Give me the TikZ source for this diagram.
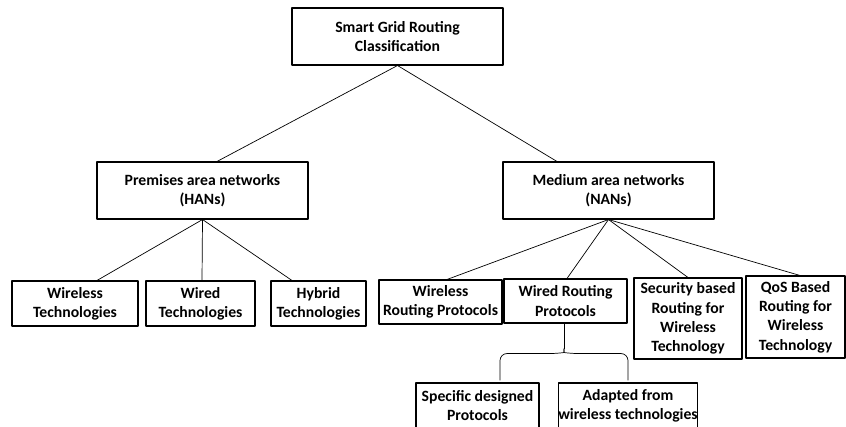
\documentclass[tikz,border=0pt]{standalone}
\usepackage{fontspec}
\setmainfont{Carlito}
\begin{document}
\begin{tikzpicture}[x=0.3mm,y=-0.3mm,line join=round,
	box/.style={draw,line width=0.9pt,inner sep=0pt,align=center,font=\bfseries\fontsize{13.4}{16.4}\selectfont},
	link/.style={line width=0.6pt}]
	\def\px{0.3mm} % one pixel of the page
	\useasboundingbox (0,0) rectangle (846,426);
	\node[box,minimum width=211*\px,minimum height=57*\px] (root) at (397.5,36.5) {Smart Grid Routing\\Classification};
	\node[box,minimum width=211*\px,minimum height=57*\px] (han) at (202.5,190.5) {Premises area networks\\(HANs)};
	\node[box,minimum width=211*\px,minimum height=57*\px] (nan) at (608.5,190.5) {Medium area networks\\(NANs)};
	% premises side
	\node[box,minimum width=126*\px,minimum height=45*\px] (wlt) at (75,303.5) {Wireless\\Technologies};
	\node[box,minimum width=109*\px,minimum height=45*\px] (wdt) at (200.5,303.5) {Wired\\Technologies};
	\node[box,minimum width=95*\px,minimum height=45*\px] (hyt) at (318.5,303.5) {Hybrid\\Technologies};
	% medium side
	\node[box,minimum width=123*\px,minimum height=44*\px] (wlr) at (440.5,302) {Wireless\\Routing Protocols};
	\node[box,minimum width=123*\px,minimum height=44*\px] (wdr) at (565.5,301) {Wired Routing\\Protocols};
	\node[box,minimum width=108*\px,minimum height=81*\px] (sec) at (688,318.5) {Security based\\Routing for\\Wireless\\Technology};
	\node[box,minimum width=99*\px,minimum height=82*\px] (qos) at (795.5,317) {QoS Based\\Routing for\\Wireless\\Technology};
	\node[box,minimum width=123*\px,minimum height=45*\px] (spd) at (477.5,405.5) {Specific designed\\Protocols};
	\node[box,minimum width=136*\px,minimum height=45*\px] (adp) at (628,405.5) {Adapted from\\wireless technologies};
	% connectors
	\draw[link] (root.south) -- ([shift={(14.5,0)}]han.north);
	\draw[link] (root.south) -- ([shift={(-51.5,0)}]nan.north);
	\draw[link] (han.south) -- ([shift={(22,0)}]wlt.north);
	\draw[link] (han.south) -- ([shift={(1.5,0)}]wdt.north);
	\draw[link] (han.south) -- ([shift={(-26.5,0)}]hyt.north);
	\draw[link] (nan.south) -- ([shift={(6.5,0)}]wlr.north);
	\draw[link] (nan.south) -- ([shift={(1.5,0)}]wdr.north);
	\draw[link] (nan.south) -- (sec.north);
	\draw[link] (nan.south) -- ([shift={(4.5,0)}]qos.north);
	% brace below the wired protocols
	\coordinate (cusp) at ([shift={(-1.5,25)}]wdr.south);
	\draw[link] (wdr.south -| cusp) -- (cusp);
	\draw[link,rounded corners=6] (cusp) .. controls +(0,4) .. +(-7,5) -| ([shift={(22.5,-2)}]spd.north);
	\draw[link,rounded corners=6] (cusp) .. controls +(0,4) .. +(7,5) -| ([shift={(0,-2)}]adp.north);
\end{tikzpicture}
\end{document}
